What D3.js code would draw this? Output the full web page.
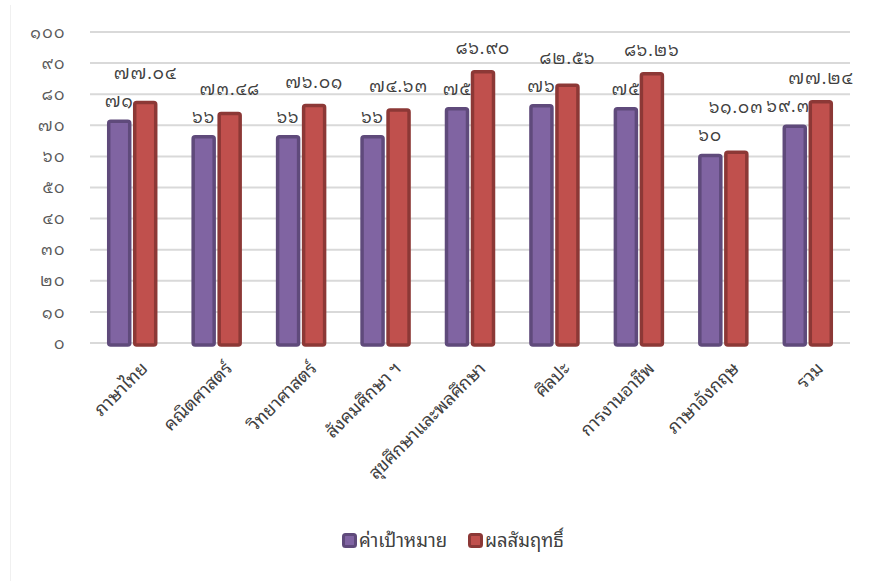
<!DOCTYPE html>
<html><head><meta charset="utf-8">
<script src="https://cdn.jsdelivr.net/npm/d3@7/dist/d3.min.js"></script>
<style>
html,body{margin:0;padding:0;background:#fff;}
text{font-family:"Noto Sans Thai Looped","Loma","Garuda","Tlwg Typo","Noto Sans","Noto Sans Thai",Tahoma,sans-serif;}
</style></head>
<body><svg id="c" width="870" height="581"></svg>
<script>
const categories = ["ภาษาไทย","คณิตศาสตร์","วิทยาศาสตร์","สังคมศึกษา ฯ","สุขศึกษาและพลศึกษา","ศิลปะ","การงานอาชีพ","ภาษาอังกฤษ","รวม"];
const targetValues = [71, 66, 66, 66, 75, 76, 75, 60, 69.38];
const resultValues = [77.04, 73.48, 76.01, 74.63, 86.90, 82.56, 86.26, 61.03, 77.24];
const targetLabels = ["๗๑","๖๖","๖๖","๖๖","๗๕","๗๖","๗๕","๖๐","๖๙.๓๘"];
const resultLabels = ["๗๗.๐๔","๗๓.๔๘","๗๖.๐๑","๗๔.๖๓","๘๖.๙๐","๘๒.๕๖","๘๖.๒๖","๖๑.๐๓","๗๗.๒๔"];
const yTicks = [0,10,20,30,40,50,60,70,80,90,100];
const yTickLabels = ["๐","๑๐","๒๐","๓๐","๔๐","๕๐","๖๐","๗๐","๘๐","๙๐","๑๐๐"];
const seriesNames = ["ค่าเป้าหมาย","ผลสัมฤทธิ์"];

const svg = d3.select("#c");
svg.append("line").attr("x1",10.5).attr("x2",10.5).attr("y1",5).attr("y2",581).attr("stroke","#f0f0f0");

const x = d3.scaleBand().domain(categories).range([90,850]);
const y = d3.scaleLinear().domain([0,100]).range([343,32]);

svg.append("g").selectAll("line").data(yTicks).join("line")
  .attr("x1",90).attr("x2",850)
  .attr("y1",d=>y(d)).attr("y2",d=>y(d))
  .attr("stroke","#d9d9d9").attr("stroke-width",2);

svg.append("g").selectAll("text").data(yTicks).join("text")
  .attr("x",66).attr("y",d=>y(d)).attr("dy","0.35em")
  .attr("text-anchor","end").attr("font-size",16).attr("letter-spacing",1.5).attr("fill","#595959")
  .text((d,i)=>yTickLabels[i]);

const barW = 21;
const series = [
  {vals: targetValues, labels: targetLabels, fill:"#8064a2", stroke:"#5f4a7b", off:-1-barW-1.5, lift:15},
  {vals: resultValues, labels: resultLabels, fill:"#c0504d", stroke:"#8c3836", off:1+1.5, lift:19}
];
const labelSel = [];
series.forEach(s=>{
  const g = svg.append("g");
  g.selectAll("rect").data(categories).join("rect")
    .attr("x",d=>x(d)+x.bandwidth()/2+s.off)
    .attr("y",(d,i)=>y(s.vals[i])-1)
    .attr("width",barW)
    .attr("height",(d,i)=>y(0)+3-y(s.vals[i]))
    .attr("rx",2)
    .attr("fill",s.fill).attr("stroke",s.stroke).attr("stroke-width",3.5);
  labelSel.push(svg.append("g").selectAll("text").data(categories).join("text")
    .attr("x",d=>x(d)+x.bandwidth()/2+s.off+barW/2)
    .attr("y",(d,i)=>y(s.vals[i])-s.lift)
    .attr("text-anchor","middle").attr("font-size",17).attr("letter-spacing",1).attr("fill","#404040")
    .text((d,i)=>s.labels[i]));
});
// collision avoidance: push result label up if it overlaps the target label
const tNodes = labelSel[0].nodes(), rNodes = labelSel[1].nodes();
tNodes.forEach((tn,i)=>{
  const a = tn.getBBox(), rn = rNodes[i], b = rn.getBBox();
  const hOverlap = a.x < b.x + b.width && b.x < a.x + a.width;
  const overlap = (b.y + b.height) - a.y;
  if (hOverlap && overlap > 0 && b.y < a.y + a.height) {
    rn.setAttribute("y", +rn.getAttribute("y") - overlap - 1);
  }
});

svg.append("g").selectAll("text").data(categories).join("text")
  .attr("transform",d=>`translate(${x(d)+x.bandwidth()/2+7},${360}) rotate(-45)`)
  .attr("text-anchor","end").attr("dy","0.75em").attr("font-size",18).attr("fill","#404040")
  .text(d=>d);

const leg = svg.append("g");
const legItems = [
  {name:seriesNames[0], fill:"#8064a2", stroke:"#5f4a7b", x:342},
  {name:seriesNames[1], fill:"#c0504d", stroke:"#8c3836", x:468}
];
legItems.forEach(l=>{
  leg.append("rect").attr("x",l.x+1.5).attr("y",534.5).attr("width",12).attr("height",12).attr("rx",2)
    .attr("fill",l.fill).attr("stroke",l.stroke).attr("stroke-width",3);
  leg.append("text").attr("x",l.x+17).attr("y",541).attr("dy","0.35em")
    .attr("font-size",18.5).attr("fill","#404040").text(l.name);
});
</script></body></html>
